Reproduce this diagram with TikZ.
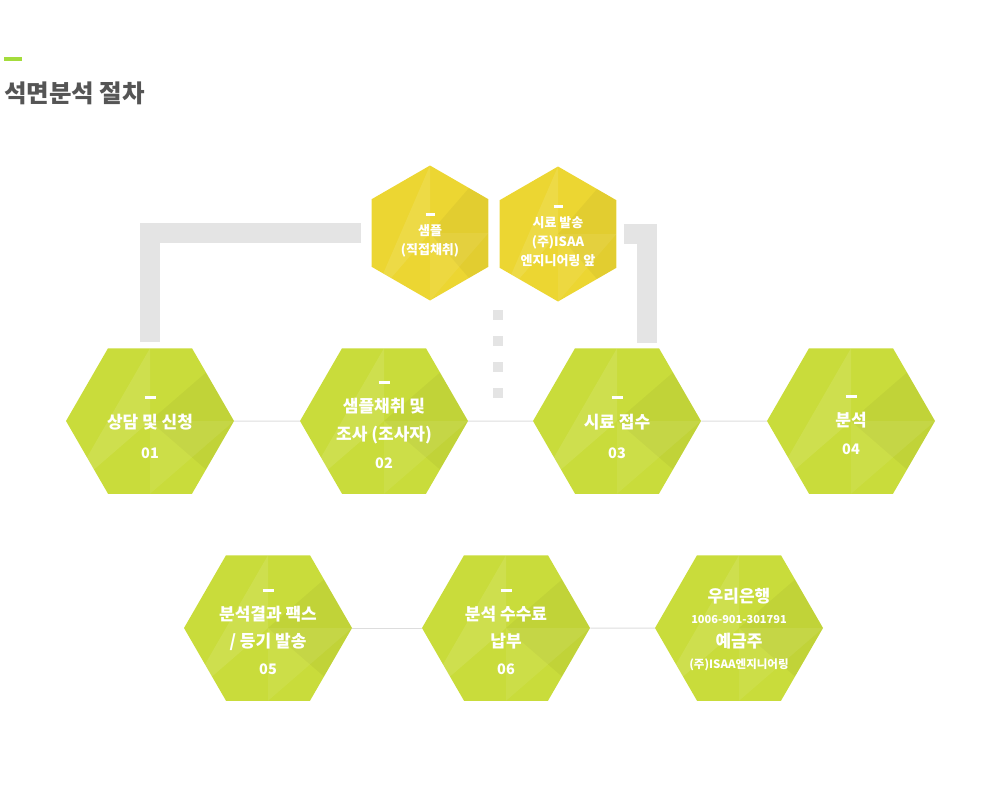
\documentclass[tikz,border=0pt]{standalone}
\usepackage{fontspec}
\setmainfont{Noto Sans CJK KR}
\usetikzlibrary{shapes.geometric}

\definecolor{hexlime}{HTML}{C9DC3B}
\definecolor{hexgold}{HTML}{ECD632}
\definecolor{titlegray}{HTML}{555555}
\definecolor{titlebar}{HTML}{A4DC3C}
\definecolor{barline}{HTML}{E4E4E4}
\definecolor{thinline}{HTML}{DDDDDD}

\newcommand{\hexdash}{\rule{0pt}{12pt}\rule[1pt]{11pt}{3pt}}
\newcommand{\lowdash}{\rule{0pt}{17pt}\rule[1pt]{11pt}{3pt}}
\newcommand{\smalldash}{\rule{0pt}{8pt}\rule[1pt]{9pt}{2.5pt}}
\newcommand{\numfont}{\fontsize{14.5}{28}\selectfont}

\tikzset{
  polyfx/.style={path picture={
    \fill[white,opacity=.10] (path picture bounding box.south west) -- (path picture bounding box.center) -- (path picture bounding box.north) -- cycle;
    \fill[black,opacity=.04] (path picture bounding box.north east) -- (path picture bounding box.center) -- (path picture bounding box.south east) -- cycle;
    \fill[white,opacity=.07] (path picture bounding box.south) -- (path picture bounding box.center) -- (path picture bounding box.east) -- cycle;
  }},
  hexa/.style={regular polygon, regular polygon sides=6, minimum size=168pt, inner sep=0pt,
    fill=hexlime, polyfx, text=white, align=center, font=\fontsize{17}{28}\selectfont\bfseries},
  hexy/.style={regular polygon, regular polygon sides=6, shape border rotate=30, minimum size=135pt, inner sep=0pt,
    fill=hexgold, polyfx, text=white, align=center, font=\fontsize{13}{19}\selectfont\bfseries},
  hexlabel/.style={inner sep=0pt, text=white, align=center, font=\fontsize{17}{24}\selectfont\bfseries},
  link/.style={thinline, line width=1pt},
  bar/.style={barline, line width=20pt},
  dots/.style={barline, line width=10pt, dash pattern=on 10pt off 16pt},
}

\begin{document}
\begin{tikzpicture}[x=1pt,y=-1pt]
\useasboundingbox (0,0) rectangle (1000,800);

% title
\fill[titlebar] (4,57) rectangle (22,61);
\node[anchor=base west, text=titlegray, font=\fontsize{24.5}{28}\selectfont\bfseries, inner sep=0pt] (title) at (4,102) {석면분석 절차};

% sample steps on top
\node[hexy] (sA) at (430,233) {\smalldash\\샘플\\(직접채취)};
\node[hexy] (sB) at (558,234) {\smalldash\\시료 발송\\(주)ISAA\\엔지니어링 앞};

% first row
\node[hexa] (h01) at (150,421) {\lowdash\\상담 및 신청\\[2pt]{\numfont 01}};
\node[hexa] (h02) at (384,421) {\hexdash\\샘플채취 및\\조사 (조사자)\\{\numfont 02}};
\node[hexa] (h03) at (617,421) {\lowdash\\시료 접수\\[2pt]{\numfont 03}};
\node[hexa] (h04) at (851,421) {\hexdash\\분석\\{\numfont 04}};

% second row
\node[hexa, font=\fontsize{17}{27}\selectfont\bfseries] (h05) at (268,628) {\hexdash\\분석결과 팩스\\/ 등기 발송\\{\numfont 05}};
\node[hexa, font=\fontsize{17}{27}\selectfont\bfseries] (h06) at (506,628) {\hexdash\\분석 수수료\\납부\\{\numfont 06}};
\node[hexa] (h07) at (739,628) {};
\node[hexlabel] (h07t) at (h07.center) {\rule{0pt}{18pt}우리은행\\[-3pt]{\fontsize{11}{24}\selectfont 1006-901-301791}\\예금주\\[-3pt]{\fontsize{11.5}{24}\selectfont (주)ISAA엔지니어링}};

% connectors
\draw[link] (h01.east) -- (h02.west);
\draw[link] (h02.east) -- (h03.west);
\draw[link] (h03.east) -- (h04.west);
\draw[link] (h05.east) -- (h06.west);
\draw[link] (h06.east) -- (h07.west);

\draw[bar] ([xshift=-10pt]sA.west) -| ([yshift=6pt]h01.north);
\draw[bar] ([xshift=7pt]sB.east) -| ([xshift=30pt,yshift=5pt]h03.north);

\coordinate (dtop) at (498,310);
\coordinate (dend) at (498,398);
\draw[dots] (dtop) -- (dend);
\end{tikzpicture}
\end{document}
